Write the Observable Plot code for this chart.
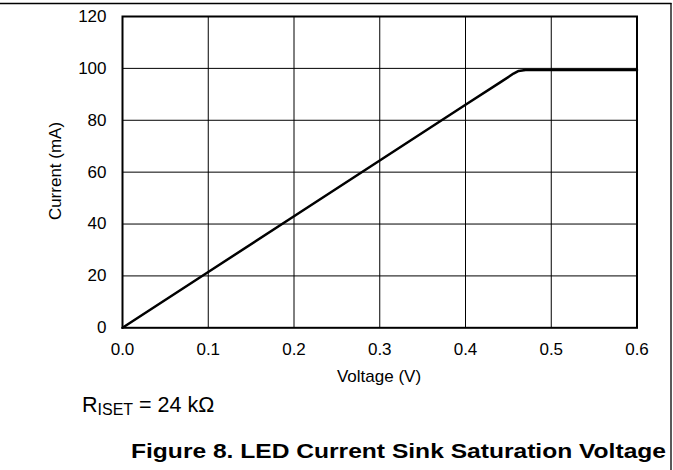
<!DOCTYPE html>
<html>
<head>
<meta charset="utf-8">
<script src="https://cdn.jsdelivr.net/npm/d3@7"></script>
<script src="https://cdn.jsdelivr.net/npm/@observablehq/plot@0.6"></script>
<style>
  html, body { margin: 0; padding: 0; background: #fff; }
  svg { display: block; }
</style>
</head>
<body>
<div id="chart"></div>
<script>
const voltage = [0, 0.1, 0.2, 0.3, 0.4, 0.44, 0.456, 0.462, 0.47, 0.6];
const current = [0, 21.5, 43, 64.5, 86, 94.5, 98, 99.0, 99.4, 99.4];
const xTicks = [0, 0.1, 0.2, 0.3, 0.4, 0.5, 0.6];
const yTicks = [0, 20, 40, 60, 80, 100, 120];
const xLabel = "Voltage (V)";
const yLabel = "Current (mA)";
const noteMain = "R";
const noteSub = "ISET";
const noteRest = " = 24 kΩ";
const title = "Figure 8. LED Current Sink Saturation Voltage";

const data = voltage.map((v, i) => ({v, i: current[i]}));
const font = "'Liberation Sans', Arial, sans-serif";

const plot = Plot.plot({
  width: 673,
  height: 470,
  marginLeft: 122,
  marginRight: 36.5,
  marginTop: 16,
  marginBottom: 142.7,
  style: {fontFamily: font, fontSize: "17px", color: "#000", background: "#fff", overflow: "visible"},
  x: {domain: [0, 0.6], axis: null},
  y: {domain: [0, 120], axis: null},
  marks: [
    Plot.gridX(xTicks.slice(1, -1), {stroke: "#000", strokeOpacity: 1, strokeWidth: 1}),
    Plot.gridY(yTicks.slice(1, -1), {stroke: "#000", strokeOpacity: 1, strokeWidth: 1}),
    Plot.line(data, {x: "v", y: "i", stroke: "#000", strokeWidth: 2.5, curve: "linear"}),
    Plot.frame({stroke: "#000", strokeWidth: 2}),
    Plot.axisX(xTicks, {tickSize: 0, tickPadding: 15, tickFormat: d3.format(".1f"), label: null, fontSize: 17}),
    Plot.axisY(yTicks, {tickSize: 0, tickPadding: 16, tickFormat: d => String(d), label: null, fontSize: 17})
  ]
});

document.getElementById("chart").appendChild(plot);
const svg = d3.select(plot);

// figure border
svg.append("line").attr("x1", 0).attr("x2", 671.5).attr("y1", 3.5).attr("y2", 3.5)
  .attr("stroke", "#000").attr("stroke-width", 1.3);
svg.append("line").attr("x1", 671).attr("x2", 671).attr("y1", 3).attr("y2", 470)
  .attr("stroke", "#000").attr("stroke-width", 1.3);

svg.append("text").attr("x", 379).attr("y", 382)
  .attr("text-anchor", "middle").attr("font-family", font).attr("font-size", 17)
  .attr("fill", "#000").text(xLabel);

svg.append("text").attr("transform", "translate(61,171) rotate(-90)")
  .attr("text-anchor", "middle").attr("font-family", font).attr("font-size", 17)
  .attr("fill", "#000").text(yLabel);

const note = svg.append("text").attr("x", 82).attr("y", 411.7)
  .attr("text-anchor", "start")
  .attr("font-family", font).attr("font-size", 21.5).attr("fill", "#000");
note.append("tspan").text(noteMain);
note.append("tspan").attr("font-size", 16).attr("dy", 3).text(noteSub);
note.append("tspan").attr("dy", -3).text(noteRest);

svg.append("text").attr("x", 131).attr("y", 458)
  .attr("text-anchor", "start").attr("font-family", font).attr("font-size", 21)
  .attr("font-weight", "bold").attr("fill", "#000")
  .attr("textLength", 535).attr("lengthAdjust", "spacingAndGlyphs").text(title);
</script>
</body>
</html>
